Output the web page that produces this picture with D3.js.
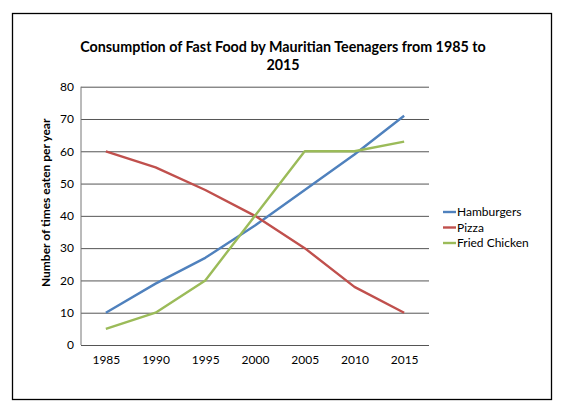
<!DOCTYPE html>
<html>
<head>
<meta charset="utf-8">
<script src="https://cdn.jsdelivr.net/npm/d3@7"></script>
<style>
  html, body { margin: 0; padding: 0; background: #fff; }
  svg { display: block; font-family: Lato, "Open Sans", sans-serif; }
</style>
</head>
<body>
<svg id="chart" width="568" height="413"></svg>
<script>
const years = ["1985", "1990", "1995", "2000", "2005", "2010", "2015"];
const hamburgers = [10, 19, 27, 37, 48, 59, 71];
const pizza = [60, 55, 48, 40, 30, 18, 10];
const friedChicken = [5, 10, 20, 40, 60, 60, 63];
const seriesNames = ["Hamburgers", "Pizza", "Fried Chicken"];
const yTicks = [0, 10, 20, 30, 40, 50, 60, 70, 80];
const titleLines = ["Consumption of Fast Food by Mauritian Teenagers from 1985 to", "2015"];
const yTitle = "Number of times eaten per year";

const series = [
  { name: seriesNames[0], values: hamburgers, color: "#4F81BD" },
  { name: seriesNames[1], values: pizza, color: "#C0504D" },
  { name: seriesNames[2], values: friedChicken, color: "#9BBB59" }
];

const svg = d3.select("#chart");

// outer frame
svg.append("rect").attr("x", 12.5).attr("y", 13.5).attr("width", 539).attr("height", 386)
  .attr("fill", "none").attr("stroke", "#000").attr("stroke-width", 1.3);

const pLeft = 81, pRight = 429, pTop = 86.7, pBottom = 345;
const x = d3.scalePoint().domain(years).range([pLeft, pRight]).padding(0.5);
const y = d3.scaleLinear().domain([0, 80]).range([pBottom, pTop]);

// title
svg.append("text").attr("x", 283).attr("y", 52).attr("text-anchor", "middle")
  .attr("font-weight", "bold").attr("font-size", 14.3).attr("fill", "#000")
  .selectAll("tspan").data(titleLines).join("tspan")
  .attr("x", 283).attr("dy", (d, i) => i === 0 ? 0 : 18).text(d => d);

// gridlines
const gridG = svg.append("g").attr("transform", `translate(${pLeft},0)`)
  .call(d3.axisLeft(y).tickValues(yTicks).tickSize(-(pRight - pLeft)).tickFormat(""));
gridG.select(".domain").remove();
gridG.selectAll(".tick line").attr("stroke", "#555").attr("stroke-width", 1);

// y axis line
svg.append("line").attr("x1", pLeft).attr("x2", pLeft).attr("y1", pTop).attr("y2", pBottom)
  .attr("stroke", "#777").attr("stroke-width", 1);

// y tick labels
const yAxisG = svg.append("g").attr("transform", `translate(${pLeft},0)`)
  .call(d3.axisLeft(y).tickValues(yTicks).tickSize(0).tickPadding(7));
yAxisG.select(".domain").remove();
yAxisG.selectAll("text").attr("font-size", 12).attr("font-family", "Lato, sans-serif").attr("fill", "#000");

// x tick labels
const xAxisG = svg.append("g").attr("transform", `translate(0,${pBottom})`)
  .call(d3.axisBottom(x).tickSize(0).tickPadding(10));
xAxisG.select(".domain").remove();
xAxisG.selectAll("text").attr("font-size", 12).attr("font-family", "Lato, sans-serif").attr("fill", "#000");

// y title
svg.append("text").attr("transform", `translate(50,${(pTop + pBottom) / 2 - 13}) rotate(-90)`)
  .attr("text-anchor", "middle").attr("font-weight", "bold").attr("font-size", 12)
  .attr("fill", "#000").text(yTitle);

// lines
const line = d3.line().x((d, i) => x(years[i])).y(d => y(d));
svg.append("g").selectAll("path").data(series).join("path")
  .attr("d", d => line(d.values)).attr("fill", "none")
  .attr("stroke", d => d.color).attr("stroke-width", 2.4)
  .attr("stroke-linejoin", "round");

// legend
const lg = svg.append("g").selectAll("g").data(series).join("g")
  .attr("transform", (d, i) => `translate(443,${212 + i * 15.5})`);
lg.append("line").attr("x1", 0).attr("x2", 13).attr("y1", 0).attr("y2", 0)
  .attr("stroke", d => d.color).attr("stroke-width", 2.4);
lg.append("text").attr("x", 14).attr("y", 4.3).attr("font-size", 12).attr("fill", "#000")
  .text(d => d.name);
</script>
</body>
</html>
